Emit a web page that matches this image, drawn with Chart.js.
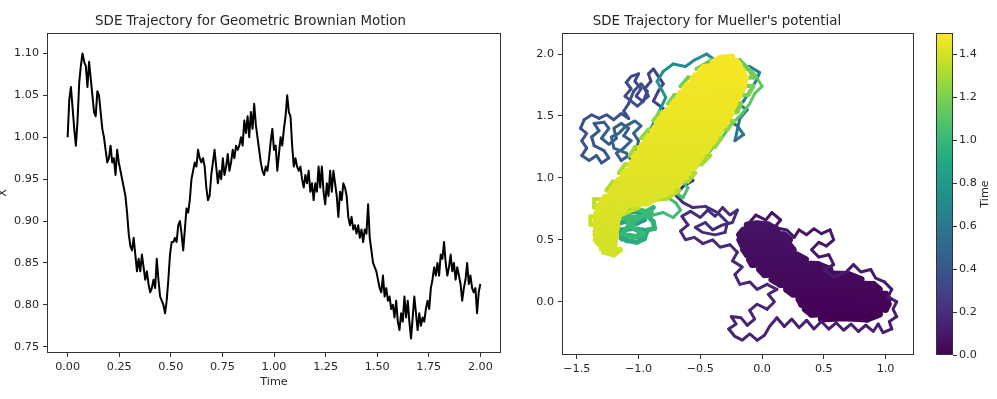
<!DOCTYPE html>
<html>
<head>
<meta charset="utf-8">
<script src="https://cdn.jsdelivr.net/npm/chart.js@4.4.1/dist/chart.umd.min.js"></script>
<style>
  body { margin: 0; background: #fff; width: 997px; height: 399px; overflow: hidden; position: relative; }
  .box { position: absolute; top: 0; height: 399px; }
</style>
</head>
<body>
<div class="box" style="left:0;width:548px"><canvas id="gbm"></canvas></div>
<div class="box" style="left:520px;width:436px"><canvas id="mueller"></canvas></div>
<div class="box" style="left:900px;width:97px"><canvas id="cbar"></canvas></div>
<script>
// ---- left panel: geometric brownian motion ----
const gbmTime = [
  0,0.008,0.016,0.024,0.032,0.04,0.048,0.056,0.064,0.072,
  0.08,0.088,0.096,0.104,0.112,0.12,0.128,0.136,0.144,0.152,
  0.16,0.168,0.176,0.184,0.192,0.2,0.208,0.216,0.224,0.232,
  0.24,0.248,0.256,0.264,0.272,0.28,0.288,0.296,0.304,0.312,
  0.32,0.328,0.336,0.344,0.352,0.36,0.368,0.376,0.384,0.392,
  0.4,0.408,0.416,0.424,0.432,0.44,0.448,0.456,0.464,0.472,
  0.48,0.488,0.496,0.504,0.512,0.52,0.528,0.536,0.544,0.552,
  0.56,0.568,0.576,0.584,0.592,0.6,0.608,0.616,0.624,0.632,
  0.64,0.648,0.656,0.664,0.672,0.68,0.688,0.696,0.704,0.712,
  0.72,0.728,0.736,0.744,0.752,0.76,0.768,0.776,0.784,0.792,
  0.8,0.808,0.816,0.824,0.832,0.84,0.848,0.856,0.864,0.872,
  0.88,0.888,0.896,0.904,0.912,0.92,0.928,0.936,0.944,0.952,
  0.96,0.968,0.976,0.984,0.992,1.0,1.008,1.016,1.024,1.032,
  1.04,1.048,1.056,1.064,1.072,1.08,1.088,1.096,1.104,1.112,
  1.12,1.128,1.136,1.144,1.152,1.16,1.168,1.176,1.184,1.192,
  1.2,1.208,1.216,1.224,1.232,1.24,1.248,1.256,1.264,1.272,
  1.28,1.288,1.296,1.304,1.312,1.32,1.328,1.336,1.344,1.352,
  1.36,1.368,1.376,1.384,1.392,1.4,1.408,1.416,1.424,1.432,
  1.44,1.448,1.456,1.464,1.472,1.48,1.488,1.496,1.504,1.512,
  1.52,1.528,1.536,1.544,1.552,1.56,1.568,1.576,1.584,1.592,
  1.6,1.608,1.616,1.624,1.632,1.64,1.648,1.656,1.664,1.672,
  1.68,1.688,1.696,1.704,1.712,1.72,1.728,1.736,1.744,1.752,
  1.76,1.768,1.776,1.784,1.792,1.8,1.808,1.816,1.824,1.832,
  1.84,1.848,1.856,1.864,1.872,1.88,1.888,1.896,1.904,1.912,
  1.92,1.928,1.936,1.944,1.952,1.96,1.968,1.976,1.984,1.992,
  2.0
];
const gbmX = [
  1.00,1.045,1.06,1.035,1.01,0.99,1.02,1.065,1.085,1.10,
  1.09,1.085,1.06,1.09,1.07,1.05,1.03,1.025,1.055,1.05,
  1.03,1.01,1.00,0.985,0.97,0.975,0.99,0.97,0.975,0.955,
  0.985,0.97,0.96,
  0.95,0.94,0.93,0.91,0.885,0.87,0.865,0.88,0.86,
  0.84,0.855,0.84,0.86,0.845,0.83,0.84,0.825,0.815,0.82,0.83,0.82,0.855,0.83,0.81,0.805,0.80,
  0.79,0.805,0.83,0.86,
  0.875,0.875,0.88,0.875,0.895,0.90,0.885,0.865,0.89,0.915,
  0.91,0.925,0.95,0.96,0.97,0.965,0.985,0.975,0.97,0.975,
  0.965,0.94,0.925,0.93,0.955,0.97,0.985,0.965,0.945,0.96,
  0.95,0.975,0.955,0.965,0.98,0.96,0.97,0.985,0.975,0.99,
  0.985,0.99,1.00,0.99,1.02,1.005,1.025,1.00,1.03,1.01,
  1.04,1.015,1.00,0.985,0.97,0.96,0.955,0.965,0.96,0.975,
  0.995,1.01,0.985,0.99,0.96,0.98,1.00,0.99,1.01,1.025,
  1.05,1.03,1.025,0.99,0.965,0.975,0.965,0.96,0.965,0.95,
  0.94,0.955,0.945,0.96,0.935,0.945,0.925,0.945,0.935,0.965,
  0.94,0.965,0.935,0.92,0.945,0.93,0.96,0.935,0.96,0.945,
  0.93,0.905,0.935,0.925,0.945,0.94,0.93,0.905,0.895,0.905,
  0.89,0.895,0.885,0.895,0.88,0.89,0.875,0.89,0.885,0.92,
  0.88,0.865,0.85,0.845,0.84,0.83,0.82,0.815,0.835,0.81,
  0.82,0.805,0.81,0.795,0.80,0.785,0.805,0.78,0.77,0.79,
  0.78,0.81,0.785,0.805,0.78,0.76,0.785,0.81,0.79,0.77,
  0.79,0.775,0.785,0.78,0.795,0.805,0.795,0.82,0.83,0.845,
  0.835,0.85,0.835,0.86,0.855,0.875,0.85,0.835,0.845,0.86,
  0.84,0.85,0.83,0.845,0.835,0.825,0.805,0.82,0.83,0.85,
  0.825,0.835,0.82,0.815,0.82,0.79,0.815,0.825
];
const gbmTimeTicks = [0, 0.25, 0.5, 0.75, 1.0, 1.25, 1.5, 1.75, 2.0];
const gbmValueTicks = [0.75, 0.80, 0.85, 0.90, 0.95, 1.00, 1.05, 1.10];

// ---- right panel: trajectory on Mueller's potential, rows are [x, y, time] ----
// dense part around the lower-right minimum
const muellerCore = [
  [0.48,-0.14,0.000],[0.66,-0.13,0.001],[0.85,-0.14,0.003],
  [0.95,-0.10,0.004],[0.68,-0.09,0.005],[0.40,-0.10,0.007],
  [0.35,-0.06,0.008],[0.68,-0.05,0.009],[1.00,-0.06,0.011],
  [1.02,-0.02,0.012],[0.67,-0.01,0.013],[0.32,-0.02,0.015],
  [0.30,0.02,0.016],[0.66,0.03,0.017],[1.02,0.02,0.019],
  [1.00,0.06,0.020],[0.62,0.07,0.021],[0.25,0.06,0.023],
  [0.20,0.10,0.024],[0.58,0.11,0.025],[0.95,0.10,0.027],
  [0.90,0.14,0.028],[0.52,0.15,0.029],[0.15,0.14,0.031],
  [0.08,0.18,0.032],[0.44,0.19,0.033],[0.80,0.18,0.035],
  [0.70,0.22,0.036],[0.36,0.23,0.037],[0.02,0.22,0.039],
  [-0.02,0.26,0.040],[0.26,0.27,0.041],[0.55,0.26,0.043],
  [0.45,0.30,0.044],[0.18,0.31,0.045],[-0.08,0.30,0.047],
  [-0.10,0.34,0.048],[0.12,0.35,0.049],[0.35,0.34,0.051],
  [0.28,0.38,0.052],[0.08,0.39,0.053],[-0.12,0.38,0.055],
  [-0.15,0.42,0.056],[0.05,0.43,0.057],[0.25,0.42,0.059],
  [0.22,0.46,0.060],[0.03,0.47,0.061],[-0.16,0.46,0.063],
  [-0.18,0.50,0.064],[0.02,0.51,0.065],[0.22,0.50,0.067],
  [0.18,0.54,0.068],[0.00,0.55,0.069],[-0.18,0.54,0.071],
  [-0.15,0.58,0.072],[-0.02,0.59,0.073],[0.12,0.58,0.075],
  [0.05,0.62,0.076],[-0.04,0.63,0.077],[-0.12,0.62,0.079]
];
// excursions around the purple basin
const muellerEarly = [
  [-0.12,0.62,0.079],
  [-0.05,0.70,0.081],[0.03,0.66,0.082],[0.08,0.72,0.084],[0.15,0.66,0.085],
  [0.10,0.60,0.086],[0.20,0.58,0.087],[0.26,0.52,0.088],[0.30,0.58,0.090],
  [0.36,0.54,0.091],[0.42,0.59,0.092],[0.48,0.55,0.093],[0.55,0.58,0.094],
  [0.58,0.50,0.096],[0.52,0.45,0.097],[0.46,0.48,0.098],[0.40,0.42,0.099],
  [0.46,0.36,0.100],[0.54,0.38,0.102],[0.58,0.30,0.103],[0.50,0.26,0.104],
  [0.58,0.20,0.105],[0.68,0.24,0.106],[0.74,0.30,0.108],[0.80,0.24,0.109],
  [0.88,0.26,0.110],[0.92,0.19,0.111],[0.99,0.16,0.112],[1.05,0.10,0.114],
  [1.02,0.04,0.115],[1.09,0.00,0.116],[1.06,-0.06,0.117],[1.09,-0.12,0.118],
  [1.03,-0.16,0.120],[1.05,-0.22,0.121],[0.98,-0.25,0.122],[0.94,-0.18,0.123],
  [0.90,-0.24,0.124],[0.84,-0.19,0.126],[0.78,-0.24,0.127],[0.72,-0.18,0.128],
  [0.66,-0.23,0.129],[0.60,-0.17,0.130],[0.54,-0.22,0.132],[0.48,-0.16,0.133],
  [0.42,-0.22,0.134],[0.36,-0.15,0.135],[0.30,-0.21,0.136],[0.24,-0.14,0.138],
  [0.18,-0.20,0.139],[0.12,-0.13,0.140],[0.06,-0.20,0.141],[0.02,-0.27,0.142],
  [-0.04,-0.31,0.144],[-0.10,-0.26,0.145],[-0.16,-0.31,0.146],[-0.22,-0.28,0.147],
  [-0.27,-0.22,0.148],[-0.21,-0.18,0.150],[-0.25,-0.12,0.151],[-0.17,-0.13,0.152],
  [-0.12,-0.19,0.153],[-0.06,-0.14,0.154],[-0.10,-0.07,0.156],[-0.04,-0.02,0.157],
  [0.04,-0.06,0.158],[0.10,0.00,0.159],[0.05,0.06,0.160],[0.12,0.10,0.162],
  [0.04,0.14,0.163],[-0.04,0.10,0.164],[-0.10,0.16,0.165],[-0.18,0.14,0.166],
  [-0.22,0.22,0.168],[-0.16,0.28,0.169],[-0.24,0.33,0.170],[-0.20,0.40,0.171],
  [-0.26,0.46,0.172],[-0.34,0.44,0.174],[-0.40,0.50,0.175],[-0.48,0.47,0.176],
  [-0.55,0.52,0.177],[-0.62,0.50,0.178],[-0.66,0.57,0.180],[-0.60,0.62,0.181],
  [-0.65,0.69,0.182],[-0.58,0.73,0.183],[-0.50,0.68,0.184],[-0.44,0.74,0.186],
  [-0.38,0.69,0.187],[-0.32,0.76,0.188],[-0.26,0.70,0.189],[-0.20,0.74,0.190],
  [-0.24,0.64,0.192],[-0.32,0.62,0.193],[-0.40,0.58,0.194],[-0.46,0.64,0.195],
  [-0.54,0.60,0.196],[-0.48,0.56,0.198],[-0.38,0.54,0.199],[-0.30,0.56,0.200],
  [-0.28,0.64,0.201],[-0.36,0.72,0.202],[-0.46,0.77,0.204],[-0.56,0.76,0.205],
  [-0.64,0.80,0.206],[-0.70,0.86,0.207],[-0.64,0.93,0.208],[-0.56,0.98,0.210],
  [-0.62,1.04,0.211],[-0.72,1.00,0.212],[-0.78,0.94,0.213]
];
// crossing to the upper-left basin, blue loops
const muellerMiddle = [
  [-0.78,0.94,0.213],
  [-0.85,0.95,0.216],[-0.80,1.08,0.228],[-0.72,1.18,0.240],[-0.65,1.30,0.252],
  [-0.72,1.45,0.264],[-0.80,1.56,0.276],
  [-0.88,1.62,0.290],[-0.84,1.70,0.293],[-0.80,1.76,0.296],[-0.84,1.82,0.298],
  [-0.88,1.88,0.301],[-0.92,1.84,0.304],[-0.90,1.78,0.307],[-0.95,1.72,0.310],
  [-0.92,1.66,0.312],[-0.97,1.62,0.315],[-1.02,1.66,0.318],[-0.98,1.72,0.321],
  [-1.03,1.78,0.324],[-1.00,1.84,0.326],[-1.06,1.82,0.329],[-1.10,1.77,0.332],
  [-1.06,1.72,0.335],[-1.11,1.66,0.338],[-1.06,1.62,0.340],[-1.01,1.58,0.343],
  [-0.96,1.62,0.346],[-0.93,1.70,0.349],[-0.98,1.76,0.352],[-1.04,1.70,0.354],
  [-1.08,1.60,0.357],[-1.12,1.54,0.360],
  [-1.08,1.48,0.365],[-1.14,1.52,0.368],[-1.20,1.47,0.370],[-1.26,1.51,0.373],
  [-1.32,1.48,0.376],[-1.38,1.51,0.378],[-1.44,1.47,0.381],[-1.47,1.40,0.384],
  [-1.42,1.36,0.386],[-1.46,1.30,0.389],[-1.42,1.24,0.392],[-1.46,1.18,0.395],
  [-1.40,1.14,0.397],[-1.34,1.18,0.400],[-1.30,1.12,0.403],[-1.24,1.16,0.405],
  [-1.28,1.22,0.408],[-1.36,1.26,0.411],[-1.38,1.33,0.413],[-1.32,1.38,0.416],
  [-1.36,1.44,0.419],[-1.28,1.45,0.421],[-1.24,1.40,0.424],[-1.30,1.32,0.427],
  [-1.24,1.27,0.430],[-1.18,1.32,0.432],[-1.20,1.40,0.435],[-1.14,1.44,0.438],
  [-1.08,1.40,0.440],[-1.12,1.34,0.443],[-1.06,1.30,0.446],[-1.12,1.24,0.448],
  [-1.18,1.20,0.451],[-1.14,1.14,0.454],[-1.08,1.18,0.456],[-1.02,1.22,0.459],
  [-1.00,1.30,0.462],[-1.04,1.36,0.465],[-0.98,1.42,0.467],[-1.03,1.46,0.470],
  [-1.10,1.42,0.473],[-1.16,1.36,0.475],[-1.22,1.33,0.478],[-1.20,1.24,0.481],
  [-1.10,1.20,0.483],[-1.04,1.12,0.486],[-0.98,1.08,0.489],[-1.02,1.02,0.491],
  [-0.96,0.98,0.494],[-1.00,0.92,0.497],[-0.94,0.95,0.500],[-0.88,1.02,0.503],
  [-0.75,1.20,0.530],[-0.60,1.35,0.540],[-0.45,1.45,0.550],[-0.30,1.48,0.560],
  [-0.20,1.42,0.570],[-0.15,1.35,0.580],[-0.22,1.30,0.590],[-0.18,1.48,0.600],
  [-0.12,1.55,0.610],[-0.20,1.60,0.620],[-0.25,1.52,0.630],[-0.15,1.62,0.640],
  [-0.10,1.70,0.650],[-0.05,1.78,0.660],
  [-0.02,1.85,0.670],[-0.10,1.90,0.680],[-0.20,1.88,0.690],[-0.28,1.98,0.700],
  [-0.38,1.95,0.710],[-0.45,2.00,0.720],[-0.55,1.95,0.730],[-0.62,1.90,0.740],
  [-0.72,1.92,0.750],[-0.80,1.86,0.760],[-0.85,1.78,0.770],
  [-0.78,1.65,0.776],[-0.85,1.50,0.782],[-0.95,1.30,0.788],[-1.00,1.10,0.794],
  [-1.05,0.95,0.800],[-1.12,0.85,0.806]
];
// teal blob below the upper-left basin
const muellerTeal = [
  [-1.12,0.85,0.806],
  [-1.18,0.69,0.812],[-1.097,0.718,0.820],[-1.013,0.732,0.828],[-0.954,0.662,0.836],
  [-1.013,0.634,0.844],[-1.12,0.648,0.852],[-1.18,0.62,0.860],[-1.156,0.578,0.868],
  [-1.049,0.592,0.876],[-0.966,0.578,0.884],[-0.99,0.522,0.892],[-1.073,0.536,0.900],
  [-1.132,0.508,0.908],[-1.18,0.55,0.916],[-1.097,0.494,0.924],[-1.013,0.48,0.932],
  [-0.954,0.508,0.940],[-0.93,0.578,0.948],[-0.87,0.592,0.956],[-0.882,0.648,0.964],
  [-0.954,0.718,0.972],[-0.882,0.76,0.980],[-0.99,0.676,0.984],[-1.073,0.62,0.988],
  [-1.132,0.55,0.992],[-1.037,0.522,0.996],[-0.966,0.55,1.000],[-1.037,0.592,1.004],
  [-1.12,0.676,1.008],[-0.966,0.69,1.012],[-0.90,0.72,1.013],[-1.04,0.75,1.014],
  [-1.15,0.72,1.015],[-1.06,0.66,1.016]
];
// green loops on the way back up
const muellerGreen = [
  [-1.06,0.66,1.016],
  [-0.88,0.70,1.017],[-0.80,0.72,1.022],[-0.72,0.68,1.027],[-0.66,0.74,1.032],
  [-0.70,0.80,1.037],[-0.76,0.84,1.042],[-0.70,0.88,1.047],[-0.64,0.84,1.052],
  [-0.60,0.92,1.057],[-0.66,0.98,1.062],[-0.60,1.04,1.067],[-0.54,1.08,1.072],
  [-0.48,1.14,1.077],[-0.42,1.22,1.082],[-0.36,1.28,1.087],[-0.30,1.36,1.092],
  [-0.24,1.44,1.097],[-0.16,1.52,1.102],[-0.10,1.60,1.107],[-0.06,1.68,1.112],
  [0.00,1.74,1.120],[-0.05,1.82,1.140]
];
// late time, filling the upper-left basin
const muellerLime = [
  [-0.05,1.82,1.140],
  [-0.18,1.95,1.150],[-0.295,1.935,1.154],[-0.41,1.95,1.158],
  [-0.53,1.88,1.162],[-0.32,1.895,1.166],[-0.11,1.88,1.170],
  [-0.07,1.81,1.174],[-0.335,1.795,1.178],[-0.60,1.81,1.182],
  [-0.66,1.74,1.186],[-0.365,1.755,1.190],[-0.07,1.74,1.194],
  [-0.11,1.67,1.198],[-0.41,1.655,1.202],[-0.71,1.67,1.206],
  [-0.76,1.60,1.210],[-0.465,1.615,1.214],[-0.17,1.60,1.218],
  [-0.20,1.53,1.222],[-0.515,1.515,1.226],[-0.83,1.53,1.230],
  [-0.88,1.46,1.234],[-0.555,1.475,1.238],[-0.23,1.46,1.242],
  [-0.28,1.39,1.246],[-0.60,1.375,1.250],[-0.92,1.39,1.254],
  [-0.98,1.32,1.258],[-0.655,1.335,1.262],[-0.33,1.32,1.266],
  [-0.38,1.25,1.270],[-0.705,1.235,1.274],[-1.03,1.25,1.278],
  [-1.07,1.18,1.282],[-0.745,1.195,1.286],[-0.42,1.18,1.290],
  [-0.49,1.11,1.294],[-0.80,1.095,1.298],[-1.11,1.11,1.302],
  [-1.16,1.04,1.306],[-0.85,1.055,1.310],[-0.54,1.04,1.314],
  [-0.60,0.97,1.318],[-0.905,0.955,1.322],[-1.21,0.97,1.326],
  [-1.26,0.90,1.330],[-0.965,0.915,1.334],[-0.67,0.90,1.338],
  [-0.77,0.83,1.342],[-1.065,0.815,1.346],[-1.36,0.83,1.350],
  [-1.36,0.76,1.354],[-1.18,0.775,1.358],[-1.00,0.76,1.362],
  [-1.16,0.69,1.366],[-1.28,0.675,1.370],[-1.39,0.69,1.374],
  [-1.39,0.62,1.378],[-1.28,0.635,1.382],[-1.17,0.62,1.386]
];
const muellerYellow = [
  [-1.17,0.62,1.386],
  [-1.20,0.47,1.390],[-1.30,0.45,1.392],[-1.28,0.40,1.394],[-1.20,0.38,1.396],[-1.15,0.42,1.398],
  [-1.30,0.43,1.400],[-1.20,0.442,1.401],[-1.19,0.477,1.402],[-1.32,0.465,1.403],
  [-1.35,0.50,1.404],[-1.18,0.512,1.405],[-1.18,0.547,1.406],[-1.35,0.535,1.407],
  [-1.35,0.57,1.408],[-1.18,0.582,1.409],[-1.17,0.617,1.410],[-1.35,0.605,1.411],
  [-1.35,0.64,1.412],[-1.17,0.652,1.413],[-1.16,0.687,1.414],[-1.35,0.675,1.415],
  [-1.345,0.71,1.416],[-1.14,0.722,1.417],[-1.10,0.757,1.418],[-1.335,0.745,1.419],
  [-1.325,0.78,1.420],[-0.93,0.792,1.421],[-0.86,0.827,1.422],[-1.30,0.815,1.423],
  [-1.27,0.85,1.424],[-0.795,0.862,1.425],[-0.73,0.897,1.426],[-1.23,0.885,1.427],
  [-1.205,0.92,1.428],[-0.69,0.932,1.429],[-0.66,0.967,1.430],[-1.18,0.955,1.431],
  [-1.16,0.99,1.432],[-0.62,1.002,1.433],[-0.595,1.037,1.434],[-1.13,1.025,1.435],
  [-1.10,1.06,1.436],[-0.565,1.072,1.437],[-0.53,1.107,1.438],[-1.07,1.095,1.439],
  [-1.055,1.13,1.440],[-0.51,1.142,1.441],[-0.48,1.177,1.442],[-1.04,1.165,1.443],
  [-1.02,1.20,1.444],[-0.45,1.212,1.445],[-0.425,1.247,1.446],[-0.995,1.235,1.447],
  [-0.97,1.27,1.448],[-0.40,1.282,1.449],[-0.375,1.317,1.450],[-0.945,1.305,1.451],
  [-0.92,1.34,1.452],[-0.35,1.352,1.453],[-0.33,1.387,1.454],[-0.89,1.375,1.455],
  [-0.87,1.41,1.456],[-0.305,1.422,1.457],[-0.28,1.457,1.458],[-0.85,1.445,1.459],
  [-0.83,1.48,1.460],[-0.26,1.492,1.461],[-0.245,1.527,1.462],[-0.805,1.515,1.463],
  [-0.77,1.55,1.464],[-0.23,1.562,1.465],[-0.215,1.597,1.466],[-0.735,1.585,1.467],
  [-0.71,1.62,1.468],[-0.20,1.632,1.469],[-0.18,1.667,1.470],[-0.68,1.655,1.471],
  [-0.66,1.69,1.472],[-0.16,1.702,1.473],[-0.145,1.737,1.474],[-0.63,1.725,1.475],
  [-0.60,1.76,1.476],[-0.14,1.772,1.477],[-0.13,1.807,1.478],[-0.57,1.795,1.479],
  [-0.54,1.83,1.480],[-0.145,1.842,1.481],[-0.16,1.877,1.482],[-0.505,1.865,1.483],
  [-0.47,1.90,1.484],[-0.18,1.912,1.485],[-0.21,1.947,1.486],[-0.40,1.935,1.487],
  [-0.34,1.97,1.488],[-0.24,1.982,1.489]
];
const muellerXTicks = [-1.5, -1.0, -0.5, 0.0, 0.5, 1.0];
const muellerYTicks = [0.0, 0.5, 1.0, 1.5, 2.0];
const timeMax = 1.5;
const colorbarTicks = [0.0, 0.2, 0.4, 0.6, 0.8, 1.0, 1.2, 1.4];

// viridis colormap
const viridisHex = ['#440154','#482475','#414487','#355f8d','#2a788e','#21918c',
                    '#22a884','#44bf70','#7ad151','#bddf26','#fde725'];
function hexRgb(h) {
    return [parseInt(h.slice(1,3),16), parseInt(h.slice(3,5),16), parseInt(h.slice(5,7),16)];
}
function viridis(v) {
    v = Math.max(0, Math.min(1, v)) * 10;
    const i = Math.min(9, Math.floor(v));
    const f = v - i;
    const a = hexRgb(viridisHex[i]), b = hexRgb(viridisHex[i + 1]);
    const c = a.map((x, k) => Math.round(x + (b[k] - x) * f));
    return 'rgb(' + c.join(',') + ')';
}

Chart.defaults.font.family = '"DejaVu Sans", sans-serif';
Chart.defaults.font.size = 11.2;
Chart.defaults.color = '#262626';

const axisLine = '#333';

const frame = {
    id: 'frame',
    afterDraw(chart) {
        const {ctx, chartArea: a} = chart;
        ctx.save();
        ctx.strokeStyle = axisLine;
        ctx.lineWidth = 1;
        ctx.strokeRect(Math.round(a.left) + 0.5, Math.round(a.top) + 0.5,
                       Math.round(a.right - a.left) - 1, Math.round(a.bottom - a.top) - 1);
        ctx.restore();
    }
};

function fixedTicks(list) {
    return scale => { scale.ticks = list.map(v => ({value: v})); };
}

function titleFont() {
    return {size: 13.4, weight: 'normal'};
}

function tickGrid() {
    return {drawOnChartArea: false, drawTicks: true, tickLength: 4, color: axisLine, lineWidth: 1};
}

// left chart
new Chart(document.getElementById('gbm'), {
    type: 'scatter',
    data: {
        datasets: [{
            data: gbmTime.map((t, i) => ({x: t, y: gbmX[i]})),
            showLine: true,
            borderColor: '#000',
            borderWidth: 2,
            borderJoinStyle: 'round',
            pointRadius: 0,
            tension: 0
        }]
    },
    options: {
        animation: false,
        responsive: true,
        maintainAspectRatio: false,
        layout: {padding: {top: 0, right: 47, bottom: 0, left: 0}},
        plugins: {
            legend: {display: false},
            tooltip: {enabled: false},
            title: {
                display: true,
                text: 'SDE Trajectory for Geometric Brownian Motion',
                font: titleFont(),
                color: '#262626',
                padding: {top: 13.6, bottom: 3.3}
            }
        },
        scales: {
            x: {
                type: 'linear', min: -0.1, max: 2.1,
                afterBuildTicks: fixedTicks(gbmTimeTicks),
                afterFit: s => { s.height = 46; },
                ticks: {callback: v => v.toFixed(2), padding: 3, maxRotation: 0, autoSkip: false},
                grid: tickGrid(),
                border: {display: false},
                title: {display: true, text: 'Time', padding: {top: 0, bottom: 10.4}}
            },
            y: {
                min: 0.7426, max: 1.1244,
                afterBuildTicks: fixedTicks(gbmValueTicks),
                afterFit: s => { s.width = 47; },
                ticks: {callback: v => v.toFixed(2), padding: 4, autoSkip: false},
                grid: tickGrid(),
                border: {display: false},
                title: {display: true, text: 'X', padding: {top: -4, bottom: 0}}
            }
        }
    },
    plugins: [frame]
});

// right chart: one dataset per stretch of the path, later stretches drawn on top
function pathSet(rows, width, order) {
    return {
        data: rows.map(p => ({x: p[0], y: p[1]})),
        showLine: true,
        borderWidth: width,
        borderCapStyle: 'round',
        borderJoinStyle: 'round',
        pointRadius: 0,
        tension: 0,
        order: order,
        segment: {
            borderColor: ctx => viridis(rows[ctx.p0DataIndex][2] / timeMax)
        }
    };
}

new Chart(document.getElementById('mueller'), {
    type: 'scatter',
    data: {
        datasets: [
            pathSet(muellerCore, 7, 8),
            pathSet(muellerEarly, 3, 7),
            pathSet(muellerMiddle, 3, 6),
            pathSet(muellerTeal, 5, 5),
            pathSet(muellerGreen, 3, 4),
            pathSet(muellerLime, 4, 3),
            pathSet(muellerYellow, 5.5, 2)
        ]
    },
    options: {
        animation: false,
        responsive: true,
        maintainAspectRatio: false,
        layout: {padding: {top: 0, right: 42, bottom: 0, left: 0}},
        plugins: {
            legend: {display: false},
            tooltip: {enabled: false},
            title: {
                display: true,
                text: "SDE Trajectory for Mueller's potential",
                font: titleFont(),
                color: '#262626',
                padding: {top: 13.6, bottom: 3.3}
            }
        },
        scales: {
            x: {
                type: 'linear', min: -1.62, max: 1.23,
                afterBuildTicks: fixedTicks(muellerXTicks),
                afterFit: s => { s.height = 44; },
                ticks: {callback: v => (v < 0 ? '\u2212' : '') + Math.abs(v).toFixed(1), padding: 3, maxRotation: 0, autoSkip: false},
                grid: tickGrid(),
                border: {display: false}
            },
            y: {
                min: -0.43, max: 2.17,
                afterBuildTicks: fixedTicks(muellerYTicks),
                afterFit: s => { s.width = 42; },
                ticks: {callback: v => v.toFixed(1), padding: 4, autoSkip: false},
                grid: tickGrid(),
                border: {display: false}
            }
        }
    },
    plugins: [frame]
});

// colorbar
const gradientFill = {
    id: 'gradientFill',
    beforeDatasetsDraw(chart) {
        const {ctx, chartArea: a} = chart;
        const g = ctx.createLinearGradient(0, a.bottom, 0, a.top);
        viridisHex.forEach((h, i) => g.addColorStop(i / (viridisHex.length - 1), h));
        ctx.save();
        ctx.fillStyle = g;
        ctx.fillRect(a.left, a.top, a.right - a.left, a.bottom - a.top);
        ctx.restore();
    },
    afterDraw(chart) {
        const {ctx, chartArea: a} = chart;
        ctx.save();
        ctx.translate(85, (a.top + a.bottom) / 2);
        ctx.rotate(-Math.PI / 2);
        ctx.fillStyle = '#262626';
        ctx.font = '11.2px "DejaVu Sans"';
        ctx.textAlign = 'center';
        ctx.textBaseline = 'middle';
        ctx.fillText('Time', 0, 0);
        ctx.restore();
    }
};

new Chart(document.getElementById('cbar'), {
    type: 'scatter',
    data: {datasets: []},
    options: {
        animation: false,
        responsive: true,
        maintainAspectRatio: false,
        layout: {padding: {top: 33, right: 0, bottom: 44, left: 36}},
        plugins: {legend: {display: false}, tooltip: {enabled: false}},
        scales: {
            x: {display: false, min: 0, max: 1},
            y: {
                position: 'right', min: 0, max: timeMax,
                afterBuildTicks: fixedTicks(colorbarTicks),
                afterFit: s => { s.width = 44; },
                ticks: {callback: v => v.toFixed(1), padding: 2, autoSkip: false},
                grid: tickGrid(),
                border: {display: false}
            }
        }
    },
    plugins: [gradientFill, frame]
});
</script>
</body>
</html>
